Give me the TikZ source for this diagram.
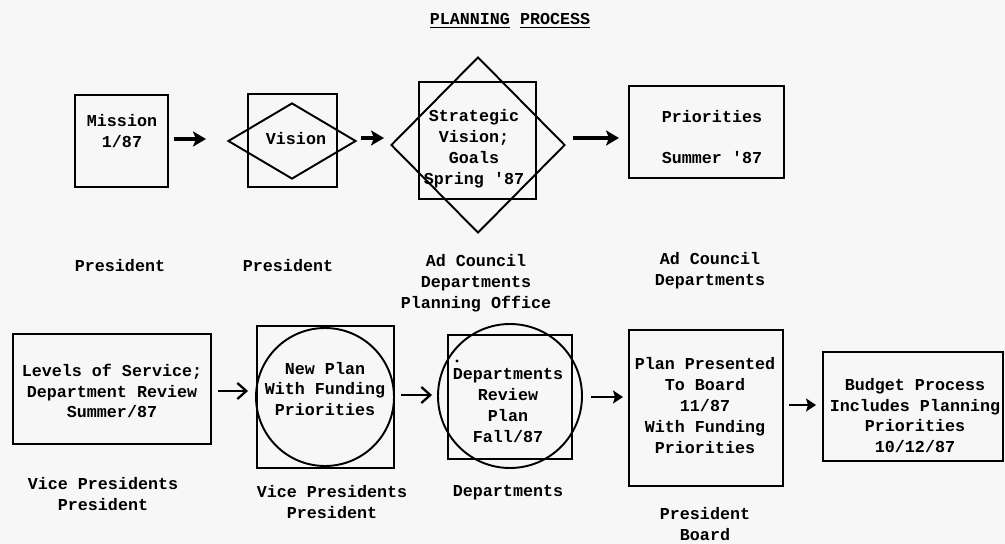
\documentclass[tikz,border=0pt]{standalone}
\usepackage{fontspec}
\newfontfamily\tw{Liberation Mono Bold}
\usetikzlibrary{arrows.meta,shapes.geometric}
\tikzset{
  box/.style={draw, rectangle, line width=1.1pt, inner sep=0pt},
  sz/.style 2 args={minimum width=#1*0.02cm, minimum height=#2*0.02cm},
  diam/.style={draw, diamond, line width=1.1pt, inner sep=0pt},
  circ/.style={draw, circle, line width=1.1pt, inner sep=0pt},
  txt/.style={font=\fontsize{9.5}{11.9}\selectfont\tw, align=center, inner sep=0pt},
  bigarrow/.style={line width=1.8pt, -{Stealth[length=0.26cm,width=0.3cm,inset=0.06cm]}},
  barb/.style={line width=1.3pt, -{Straight Barb[length=0.18cm,width=0.32cm,line width=1.3pt]}},
  smallarrow/.style={line width=1.4pt, -{Stealth[length=0.2cm,width=0.26cm,inset=0.04cm]}},
}
\begin{document}
\begin{tikzpicture}[x=0.02cm,y=-0.02cm]
\fill[black!3] (0,0) rectangle (1005,544);
\useasboundingbox (0,0) rectangle (1005,544);

% title
\node[txt] (title) at (510,21) {\underline{PLANNING} \underline{PROCESS}};

% row 1
\node[box, sz={93}{92}] (m1) at (121.5,141) {};
\node[txt] (m1t) at (122,131) {Mission\\1/87};

\node[box, sz={89}{93}] (v) at (292.5,140.5) {};
\node[diam, sz={128}{76}] (vd) at (292,141) {};
\node[txt] (vt) at (296,139) {Vision};

\node[box, sz={117}{117}] (s) at (477.5,140.5) {};
\node[diam, sz={174}{176}] (sd) at (478,145) {};
\node[txt] (st) at (474,149) {Strategic\\Vision;\\Goals\\Spring '87};

\node[box, sz={155}{92}] (p) at (706.5,132) {};
\node[txt] (pt) at (712,137) {Priorities\\[11.4pt]Summer '87};

\draw[bigarrow, shorten <=0.1cm, shorten >=0.42cm] (m1.east |- 0,139) -- (vd.west |- 0,139);
\draw[bigarrow, shorten <=0.08cm, shorten >=0.12cm] (vd.east |- 0,138) -- (sd.west |- 0,138);
\draw[bigarrow, shorten <=0.14cm, shorten >=0.18cm] (sd.east |- 0,138) -- (p.west |- 0,138);

\node[txt] (l1) at (120,266) {President};
\node[txt] (l2) at (288,266) {President};
\node[txt] (l3) at (476,283) {Ad Council\\Departments\\Planning Office};
\node[txt] (l4) at (710,271) {Ad Council\\Departments};

% row 2
\node[box, sz={198}{110}] (lv) at (112,389) {};
\node[txt] (lvt) at (112,391) {Levels of Service;\\Department Review\\Summer/87};

\node[box, sz={137}{142}] (n) at (325.5,397) {};
\node[circ, minimum size=138*0.02cm] (nc) at (325,397) {};
\node[txt] (nt) at (325,389) {New Plan\\With Funding\\Priorities};

\node[box, sz={124}{124}] (d) at (510,397) {};
\node[circ, minimum size=144*0.02cm] (dc) at (510,396) {};
\node[txt] (dt) at (508,405.5) {Departments\\Review\\Plan\\Fall/87};
\fill (457,361) circle (1.6);

\node[box, sz={154}{156}] (pp) at (706,408) {};
\node[txt] (ppt) at (705,405.5) {Plan Presented\\To Board\\11/87\\With Funding\\Priorities};

\node[box, sz={180}{109}] (b) at (913,406.5) {};
\node[txt] (bt) at (915,415.5) {Budget Process\\Includes Planning\\Priorities\\10/12/87};

\draw[barb, shorten <=0.12cm, shorten >=0.16cm] (lv.east |- 0,391) -- (n.west |- 0,391);
\draw[barb, shorten <=0.12cm, shorten >=0.1cm] (n.east |- 0,395) -- (dc.west |- 0,395);
\draw[smallarrow, shorten <=0.16cm, shorten >=0.1cm] (dc.east |- 0,397) -- (pp.west |- 0,397);
\draw[smallarrow, shorten <=0.1cm, shorten >=0.12cm] (pp.east |- 0,405) -- (b.west |- 0,405);

\node[txt] (l5) at (103,494) {Vice Presidents\\President};
\node[txt] (l6) at (332,502) {Vice Presidents\\President};
\node[txt] (l7) at (508,493) {Departments};
\node[txt] (l8) at (705,524) {President\\Board};
\end{tikzpicture}
\end{document}
